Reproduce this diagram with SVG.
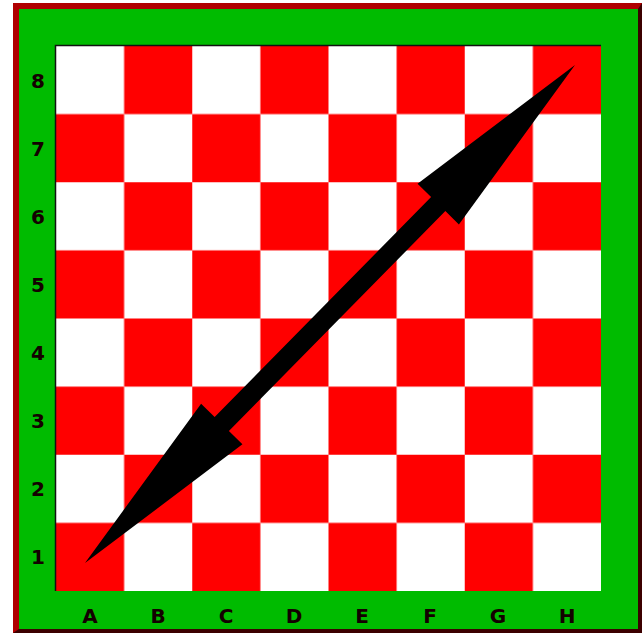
<svg xmlns="http://www.w3.org/2000/svg" width="642" height="633" viewBox="0 0 642 633">
<style>
.red{fill:#ff0000}
.lbl{font-family:"DejaVu Sans","Liberation Sans",sans-serif;font-weight:bold;font-size:20px;fill:#140000;text-anchor:middle}
</style>
<defs>
<pattern id="checks" x="56" y="46" width="136.25" height="136.25" patternUnits="userSpaceOnUse">
<rect width="136.25" height="136.25" fill="#ffffff"/>
<rect class="red" x="68.125" y="0" width="68.125" height="68.125"/>
<rect class="red" x="0" y="68.125" width="68.125" height="68.125"/>
</pattern>
</defs>
<g id="frame">
<rect x="13" y="3" width="629" height="630" fill="#3c0000"/>
<polygon points="13,3 642,3 638,9 19,9 19,629 13,633" fill="#b00000"/>
<rect x="19" y="9" width="619" height="620" fill="#00bb00"/>
</g>
<g id="board">
<rect x="56" y="46" width="545" height="545" fill="url(#checks)"/>
<path d="M55.5,591 V45.5 H601" fill="none" stroke="#111" stroke-width="1.5"/>
</g>
<g id="rank-labels" class="lbl">
<text x="38" y="87.5">8</text>
<text x="38" y="155.5">7</text>
<text x="38" y="223.5">6</text>
<text x="38" y="291.5">5</text>
<text x="38" y="359.5">4</text>
<text x="38" y="428">3</text>
<text x="38" y="496">2</text>
<text x="38" y="564">1</text>
</g>
<g id="file-labels" class="lbl">
<text x="90" y="623">A</text>
<text x="158" y="623">B</text>
<text x="226" y="623">C</text>
<text x="294" y="623">D</text>
<text x="362" y="623">E</text>
<text x="430" y="623">F</text>
<text x="498" y="623">G</text>
<text x="567" y="623">H</text>
</g>
<g id="connectors">
<polygon transform="translate(85,563) rotate(-45.46)" fill="#000" points="0,0 195,-29 195,-10 503.6,-10 503.6,-29 698.6,0 503.6,29 503.6,10 195,10 195,29"/>
</g>
</svg>
